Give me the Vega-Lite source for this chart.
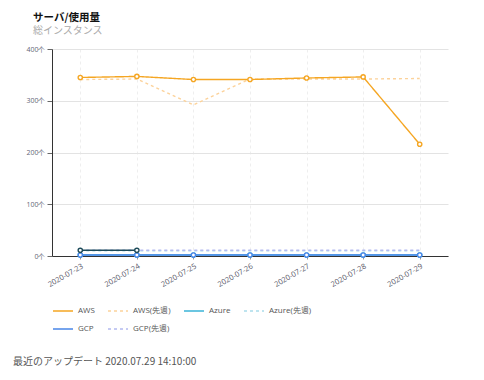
{
  "$schema": "https://vega.github.io/schema/vega-lite/v6.json",
  "background": "white",
  "padding": {"left": 12, "top": 12, "right": 10, "bottom": 5},
  "title": {
    "text": "最近のアップデート 2020.07.29 14:10:00",
    "orient": "bottom",
    "anchor": "start",
    "frame": "bounds",
    "font": "Noto Sans CJK JP",
    "fontSize": 10,
    "fontWeight": "normal",
    "color": "#555555",
    "dx": -13,
    "offset": 24
  },
  "datasets": {
    "main": [
      {"date": "2020-07-23", "series": "AWS(先週)", "value": 341},
      {"date": "2020-07-24", "series": "AWS(先週)", "value": 342},
      {"date": "2020-07-25", "series": "AWS(先週)", "value": 292},
      {"date": "2020-07-26", "series": "AWS(先週)", "value": 342},
      {"date": "2020-07-27", "series": "AWS(先週)", "value": 342},
      {"date": "2020-07-28", "series": "AWS(先週)", "value": 342},
      {"date": "2020-07-29", "series": "AWS(先週)", "value": 343},
      {"date": "2020-07-23", "series": "Azure(先週)", "value": 10},
      {"date": "2020-07-24", "series": "Azure(先週)", "value": 10},
      {"date": "2020-07-25", "series": "Azure(先週)", "value": 10},
      {"date": "2020-07-26", "series": "Azure(先週)", "value": 10},
      {"date": "2020-07-27", "series": "Azure(先週)", "value": 10},
      {"date": "2020-07-28", "series": "Azure(先週)", "value": 10},
      {"date": "2020-07-29", "series": "Azure(先週)", "value": 10},
      {"date": "2020-07-23", "series": "GCP(先週)", "value": 11},
      {"date": "2020-07-24", "series": "GCP(先週)", "value": 11},
      {"date": "2020-07-25", "series": "GCP(先週)", "value": 11},
      {"date": "2020-07-26", "series": "GCP(先週)", "value": 11},
      {"date": "2020-07-27", "series": "GCP(先週)", "value": 11},
      {"date": "2020-07-28", "series": "GCP(先週)", "value": 11},
      {"date": "2020-07-29", "series": "GCP(先週)", "value": 11},
      {"date": "2020-07-23", "series": "AWS", "value": 345},
      {"date": "2020-07-24", "series": "AWS", "value": 347},
      {"date": "2020-07-25", "series": "AWS", "value": 341},
      {"date": "2020-07-26", "series": "AWS", "value": 341},
      {"date": "2020-07-27", "series": "AWS", "value": 344},
      {"date": "2020-07-28", "series": "AWS", "value": 346},
      {"date": "2020-07-29", "series": "AWS", "value": 216},
      {"date": "2020-07-23", "series": "Azure", "value": 2},
      {"date": "2020-07-24", "series": "Azure", "value": 2},
      {"date": "2020-07-25", "series": "Azure", "value": 2},
      {"date": "2020-07-26", "series": "Azure", "value": 2},
      {"date": "2020-07-27", "series": "Azure", "value": 2},
      {"date": "2020-07-28", "series": "Azure", "value": 2},
      {"date": "2020-07-29", "series": "Azure", "value": 2},
      {"date": "2020-07-23", "series": "GCP", "value": 2},
      {"date": "2020-07-24", "series": "GCP", "value": 2},
      {"date": "2020-07-25", "series": "GCP", "value": 2},
      {"date": "2020-07-26", "series": "GCP", "value": 2},
      {"date": "2020-07-27", "series": "GCP", "value": 2},
      {"date": "2020-07-28", "series": "GCP", "value": 2},
      {"date": "2020-07-29", "series": "GCP", "value": 2}
    ],
    "extra": [
      {"date": "2020-07-23", "value": 11},
      {"date": "2020-07-24", "value": 11}
    ]
  },
  "vconcat": [
    {
      "width": 396,
      "height": 207,
      "title": {
        "text": "サーバ/使用量",
        "subtitle": "総インスタンス",
        "anchor": "start",
        "frame": "bounds",
        "font": "Noto Sans CJK JP",
        "fontSize": 10.5,
        "lineHeight": 11,
        "fontWeight": "bold",
        "color": "#111",
        "subtitleFont": "Noto Sans CJK JP",
        "subtitleFontSize": 10,
        "subtitleLineHeight": 11,
        "subtitleColor": "#aaaaaa",
        "subtitlePadding": 3,
        "dx": 7,
        "offset": 9
      },
      "layer": [
        {
          "data": {"name": "main"},
          "mark": {"type": "line", "strokeWidth": 1.4},
          "encoding": {
            "x": {"field": "date", "type": "ordinal", "sort": null},
            "y": {"field": "value", "type": "quantitative", "scale": {"domain": [0, 400]}, "axis": {"values": [0, 100, 200, 300, 400], "labelExpr": "datum.value + '个'"}},
            "color": {
              "field": "series", "type": "nominal",
              "scale": {"domain": ["AWS", "AWS(先週)", "Azure", "Azure(先週)", "GCP", "GCP(先週)"], "range": ["#f5a623", "#fcd29a", "#3bb4d8", "#a9dcea", "#4a86e8", "#b3b9f0"]}
            },
            "strokeDash": {"field": "series", "type": "nominal", "scale": {"domain": ["AWS", "AWS(先週)", "Azure", "Azure(先週)", "GCP", "GCP(先週)"], "range": [[1, 0], [3, 3], [1, 0], [3, 3], [1, 0], [3, 3]]}}
          }
        },
        {
          "data": {"name": "main"},
          "transform": [{"filter": "indexof(datum.series, '先週') < 0"}],
          "mark": {"type": "point", "filled": false, "fill": "white", "size": 18, "strokeWidth": 1.4, "opacity": 1},
          "encoding": {
            "x": {"field": "date", "type": "ordinal", "sort": null},
            "y": {"field": "value", "type": "quantitative"},
            "color": {"field": "series", "type": "nominal"}
          }
        },
        {
          "data": {"name": "extra"},
          "mark": {"type": "line", "strokeWidth": 1.4, "color": "#1d4b5a"},
          "encoding": {
            "x": {"field": "date", "type": "ordinal", "sort": null},
            "y": {"field": "value", "type": "quantitative"}
          }
        },
        {
          "data": {"name": "extra"},
          "mark": {"type": "point", "size": 18, "strokeWidth": 1.4, "stroke": "#1d4b5a", "fill": "white", "filled": true, "opacity": 1},
          "encoding": {
            "x": {"field": "date", "type": "ordinal", "sort": null},
            "y": {"field": "value", "type": "quantitative"}
          }
        }
      ]
    }
  ],
  "config": {
    "font": "Noto Sans CJK JP",
    "view": {"stroke": null},
    "scale": {"pointPadding": 0.5},
    "axisX": {
      "title": null,
      "labelAngle": -30,
      "labelAlign": "right",
      "labelBaseline": "top",
      "labelFont": "Open Sans",
      "labelFontSize": 7.5,
      "labelColor": "#556",
      "labelPadding": 3,
      "tickSize": 3,
      "tickColor": "#999",
      "domainColor": "#333",
      "gridColor": "#eeeeee",
      "gridDash": [3, 3],
      "grid": true
    },
    "axisY": {
      "title": null,
      "labelFont": "Open Sans",
      "labelFontSize": 7,
      "labelColor": "#667",
      "tickSize": 5,
      "tickColor": "#666",
      "domainColor": "#333",
      "gridColor": "#e3e3e3",
      "labelPadding": 2
    },
    "legend": {
      "orient": "bottom",
      "direction": "horizontal",
      "columns": 4,
      "gridAlign": "none",
      "title": null,
      "labelFont": "Open Sans",
      "labelFontSize": 8,
      "labelColor": "#555",
      "symbolType": "stroke",
      "symbolSize": 400,
      "symbolStrokeWidth": 1.5,
      "columnPadding": 10,
      "rowPadding": 3,
      "offset": 11,
      "labelOffset": 4
    }
  }
}
